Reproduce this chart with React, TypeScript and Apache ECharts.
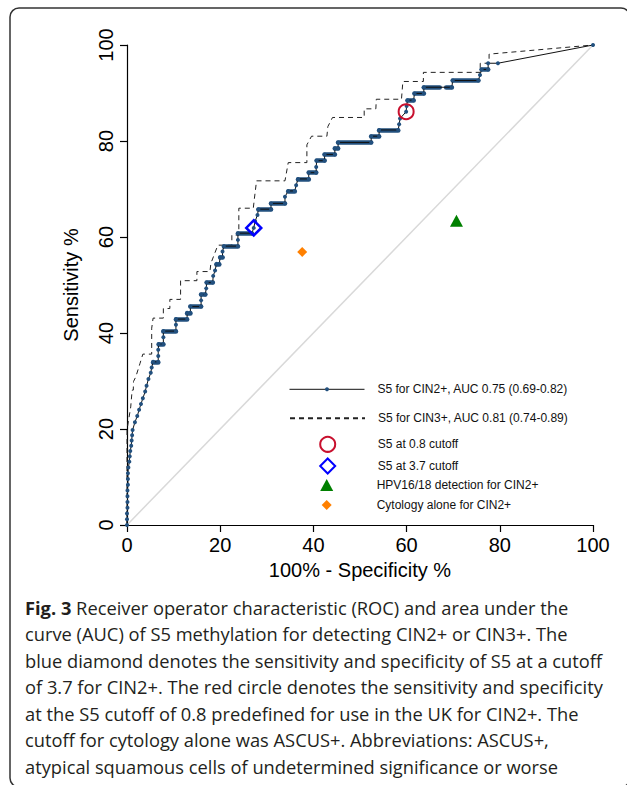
import { useEffect, useRef } from 'react';
import * as echarts from 'echarts';

const AXIS_FONT = '"Liberation Sans", Arial, Helvetica, sans-serif';
const CAPTION_FONT = '"Open Sans", sans-serif';

// Axis ticks
const xTicks = [0, 20, 40, 60, 80, 100];
const yTicks = [0, 20, 40, 60, 80, 100];

// S5 for CIN2+ ROC curve (100% - specificity, sensitivity)
const cin2Fpr = [0, 0, 0, 0.1, 0.1, 0.1, 0.1, 0.2, 0.2, 0.2, 0.3, 0.5, 0.6, 0.7, 0.9, 1.0, 1.1, 1.2, 1.7, 2.2, 2.6, 3.0, 3.4, 3.9, 4.2, 4.6, 5.1, 5.3, 5.6, 6.7, 6.7, 6.7, 6.8, 7.8, 7.8, 7.8, 10.5, 10.5, 10.5, 12.9, 12.9, 13.6, 13.6, 15.9, 15.9, 15.9, 16.8, 17.0, 17.1, 18.4, 18.5, 18.9, 19.2, 19.8, 20.0, 20.5, 20.5, 20.8, 23.8, 23.8, 23.8, 26.8, 27.2, 27.5, 28.0, 28.2, 30.9, 30.9, 33.9, 33.9, 34.6, 36.0, 36.3, 36.7, 39.0, 39.0, 40.6, 40.6, 40.7, 42.4, 42.4, 44.6, 44.6, 45.3, 45.3, 52.4, 52.4, 54.1, 54.1, 58.2, 58.4, 58.6, 59.9, 60.0, 60.2, 61.5, 61.7, 63.7, 63.7, 69.7, 69.9, 75.4, 75.75, 76.1, 77.5, 77.5, 79.6, 100];
const cin2Sens = [0, 1.2, 2.4, 3.6, 4.8, 6.0, 7.2, 8.4, 9.6, 10.8, 12.0, 13.2, 14.3, 15.4, 16.5, 17.6, 18.7, 19.8, 21.4, 22.7, 24.0, 25.2, 26.4, 27.8, 29.0, 30.4, 31.7, 32.8, 34.0, 34.0, 35.2, 36.5, 37.7, 37.7, 39.1, 40.4, 40.4, 41.7, 42.9, 42.9, 44.2, 44.2, 45.5, 45.5, 46.8, 48.0, 48.0, 49.3, 50.5, 50.5, 51.9, 53.0, 54.4, 54.4, 55.8, 55.8, 57.0, 58.1, 58.1, 59.4, 60.8, 60.8, 61.9, 63.3, 64.6, 65.8, 65.8, 67.0, 67.0, 68.4, 69.6, 69.6, 70.8, 72.1, 72.1, 73.4, 73.4, 74.6, 75.9, 75.9, 77.2, 77.2, 78.5, 78.5, 79.7, 79.7, 81.0, 81.0, 82.3, 82.3, 83.5, 84.7, 86.1, 87.3, 88.5, 88.5, 89.9, 89.9, 91.2, 91.2, 92.6, 92.6, 93.75, 94.9, 94.9, 96.2, 96.2, 100];

// Dense runs of tied CIN2+ thresholds (start fpr, end fpr, sensitivity)
const cin2RunStart = [5.6, 6.8, 7.8, 10.5, 12.9, 13.6, 15.9, 17.1, 19.2, 20.0, 20.8, 23.8, 28.2, 30.9, 34.6, 36.7, 39.0, 40.7, 42.4, 44.6, 45.3, 52.4, 54.1, 60.2, 61.7, 63.7, 68.5, 69.9, 76.1];
const cin2RunEnd = [6.7, 7.8, 10.5, 12.9, 13.6, 15.9, 16.8, 18.4, 19.8, 20.5, 23.8, 26.8, 30.9, 33.9, 36.0, 39.0, 40.6, 42.4, 44.6, 45.3, 52.4, 54.1, 58.2, 61.5, 63.7, 67.1, 69.7, 75.4, 77.5];
const cin2RunSens = [34.0, 37.7, 40.4, 42.9, 44.2, 45.5, 48.0, 50.5, 54.4, 55.8, 58.1, 60.8, 65.8, 67.0, 69.6, 72.1, 73.4, 75.9, 77.2, 78.5, 79.7, 81.0, 82.3, 88.5, 89.9, 91.2, 91.2, 92.6, 94.9];

// S5 for CIN3+ ROC curve
const cin3Fpr = [0, 0, 0.8, 1.1, 1.35, 1.4, 1.9, 2.8, 3.4, 5.3, 5.3, 5.6, 7.8, 7.8, 9.2, 9.2, 11.5, 11.5, 15.0, 15.0, 17.8, 18.0, 19.5, 22.5, 22.5, 24.0, 24.0, 27.1, 27.3, 27.8, 33.9, 34.6, 38.6, 38.6, 39.6, 42.9, 43.1, 44.1, 50.9, 50.9, 53.4, 53.5, 58.9, 59.2, 63.6, 63.6, 75.8, 75.8, 77.7, 77.7, 100];
const cin3Sens = [0, 19.8, 24.6, 28.1, 28.1, 29.9, 30.9, 33.7, 35.6, 35.6, 41.0, 43.1, 43.1, 45.1, 45.1, 47.0, 47.0, 50.9, 50.9, 52.8, 52.8, 54.5, 58.3, 58.3, 60.4, 60.4, 66.0, 66.0, 67.7, 71.7, 71.7, 75.5, 75.5, 79.2, 81.0, 81.0, 83.0, 84.9, 84.9, 86.7, 86.7, 88.7, 88.7, 92.4, 92.4, 94.3, 94.3, 96.2, 96.2, 98.1, 100];

// Chance line
const chanceFpr = [0, 100];
const chanceSens = [0, 100];

// Single operating points [100% - specificity, sensitivity]
const cutoff08 = [59.9, 86.1];
const cutoff37 = [27.2, 61.9];
const hpv1618 = [70.7, 63.4];
const cytology = [37.6, 56.9];

const seriesNames = [
  'S5 for CIN2+, AUC 0.75 (0.69-0.82)',
  'S5 for CIN3+, AUC 0.81 (0.74-0.89)',
  'S5 at 0.8 cutoff',
  'S5 at 3.7 cutoff',
  'HPV16/18 detection for CIN2+',
  'Cytology alone for CIN2+',
];

const xTitle = '100% - Specificity %';
const yTitle = 'Sensitivity %';

const captionLead = 'Fig. 3';
const captionLines = [
  ' Receiver operator characteristic (ROC) and area under the',
  'curve (AUC) of S5 methylation for detecting CIN2+ or CIN3+. The',
  'blue diamond denotes the sensitivity and specificity of S5 at a cutoff',
  'of 3.7 for CIN2+. The red circle denotes the sensitivity and specificity',
  'at the S5 cutoff of 0.8 predefined for use in the UK for CIN2+. The',
  'cutoff for cytology alone was ASCUS+. Abbreviations: ASCUS+,',
  'atypical squamous cells of undetermined significance or worse',
];

const BLUE = '#22507e';

function legendFor(name: string, left: number, top: number, w: number, h: number, pad: number, extra: any = {}) {
  return {
    data: [name],
    left,
    top,
    padding: 0,
    itemGap: 0,
    itemWidth: w,
    itemHeight: h,
    selectedMode: false,
    textStyle: { fontSize: 12, color: '#111', fontFamily: AXIS_FONT, padding: [0, 0, 0, pad] },
    ...extra,
  };
}

function buildOption() {
  const zip = (a: number[], b: number[]) => a.map((v, i) => [v, b[i]]);
  const symbolX = 326.7;
  const textX = 376.7;
  const scatterLegend = (name: string, cy: number, w: number, h: number) =>
    legendFor(name, symbolX - w / 2, cy - Math.max(h, 12) / 2, w, h, textX - (symbolX + w / 2 + 5));

  const graphics: any[] = [
    {
      type: 'rect',
      shape: { x: 10, y: 8, width: 620, height: 779, r: 9 },
      style: { fill: 'none', stroke: '#333', lineWidth: 1.5 },
      z: -10,
      silent: true,
    },
  ];
  const capSize = 18.3;
  captionLines.forEach((line, i) => {
    graphics.push({
      type: 'text',
      x: 25,
      y: 607 + i * 26.5,
      silent: true,
      style: {
        text: i === 0 ? `{b|${captionLead}}${line}` : line,
        fontSize: capSize,
        fontFamily: CAPTION_FONT,
        fill: '#231f20',
        verticalAlign: 'middle',
        rich: {
          b: { fontSize: capSize, fontFamily: CAPTION_FONT, fontWeight: 'bold', fill: '#231f20' },
        },
      },
    });
  });

  return {
    animation: false,
    backgroundColor: '#fff',
    grid: { left: 127, right: 34, top: 45, bottom: 260, containLabel: false, outerBoundsMode: 'none' },
    xAxis: {
      type: 'value',
      min: xTicks[0],
      max: xTicks[xTicks.length - 1],
      interval: xTicks[1] - xTicks[0],
      name: xTitle,
      nameLocation: 'middle',
      nameGap: 35,
      nameTextStyle: { fontSize: 20, color: '#000', fontFamily: AXIS_FONT },
      axisLine: { show: true, onZero: false, lineStyle: { color: '#000', width: 1.2 } },
      axisTick: { show: true, length: 7, lineStyle: { color: '#000', width: 1.2 } },
      axisLabel: { fontSize: 20, color: '#000', fontFamily: AXIS_FONT, margin: 10 },
      splitLine: { show: false },
    },
    yAxis: {
      type: 'value',
      min: yTicks[0],
      max: yTicks[yTicks.length - 1],
      interval: yTicks[1] - yTicks[0],
      name: yTitle,
      nameLocation: 'middle',
      nameGap: 46,
      nameTextStyle: { fontSize: 20, color: '#000', fontFamily: AXIS_FONT },
      axisLine: { show: true, onZero: false, lineStyle: { color: '#000', width: 1.2 } },
      axisTick: { show: true, length: 7, lineStyle: { color: '#000', width: 1.2 } },
      axisLabel: { fontSize: 20, color: '#000', fontFamily: AXIS_FONT, margin: 11, rotate: 90 },
      splitLine: { show: false },
    },
    legend: [
      legendFor(seriesNames[0], 289, 389.3 - 6, 75, 5, 8, { lineStyle: { width: 1 } }),
      legendFor(seriesNames[1], 289, 418.3 - 6, 75, 5, 8, { itemStyle: { color: 'rgba(0,0,0,0)', borderWidth: 0 } }),
      scatterLegend(seriesNames[2], 443.3, 15, 15),
      scatterLegend(seriesNames[3], 465, 15, 15),
      scatterLegend(seriesNames[4], 485, 13, 12),
      scatterLegend(seriesNames[5], 505, 10, 10),
    ],
    graphic: graphics,
    series: [
      {
        type: 'line',
        data: zip(chanceFpr, chanceSens),
        symbol: 'none',
        silent: true,
        lineStyle: { color: '#d9d9d9', width: 1.5 },
        z: 1,
      },
      {
        type: 'line',
        name: seriesNames[1],
        data: zip(cin3Fpr, cin3Sens),
        symbol: 'none',
        silent: true,
        lineStyle: { color: '#222', width: 1, type: [5, 4] },
        itemStyle: { color: '#222' },
        z: 2,
      },
      {
        type: 'lines',
        coordinateSystem: 'cartesian2d',
        silent: true,
        data: cin2RunStart.map((s, i) => ({ coords: [[s, cin2RunSens[i]], [cin2RunEnd[i], cin2RunSens[i]]] })),
        lineStyle: { color: BLUE, width: 4.6, cap: 'round', opacity: 1, curveness: 0 },
        z: 3,
      },
      {
        type: 'line',
        name: seriesNames[0],
        data: zip(cin2Fpr, cin2Sens),
        symbol: 'circle',
        symbolSize: 4,
        showSymbol: true,
        showAllSymbol: true,
        silent: true,
        itemStyle: { color: BLUE },
        lineStyle: { color: '#111', width: 1 },
        z: 4,
      },
      {
        type: 'scatter',
        name: seriesNames[2],
        data: [cutoff08],
        symbol: 'circle',
        symbolSize: 15,
        silent: true,
        itemStyle: { color: 'rgba(0,0,0,0)', borderColor: '#c8102e', borderWidth: 2, opacity: 1 },
        z: 5,
      },
      {
        type: 'scatter',
        name: seriesNames[3],
        data: [cutoff37],
        symbol: 'diamond',
        symbolSize: 15,
        silent: true,
        itemStyle: { color: 'rgba(0,0,0,0)', borderColor: '#0000ff', borderWidth: 2.5, opacity: 1 },
        z: 5,
      },
      {
        type: 'scatter',
        name: seriesNames[4],
        data: [hpv1618],
        symbol: 'triangle',
        symbolSize: [13, 12],
        silent: true,
        itemStyle: { color: '#008000', opacity: 1 },
        z: 5,
      },
      {
        type: 'scatter',
        name: seriesNames[5],
        data: [cytology],
        symbol: 'diamond',
        symbolSize: 10,
        silent: true,
        itemStyle: { color: '#ff8000', opacity: 1 },
        z: 5,
      },
    ],
  };
}

export default function App() {
  const ref = useRef<HTMLDivElement>(null);
  useEffect(() => {
    if (!ref.current) return;
    const chart = echarts.init(ref.current, null, { renderer: 'svg', width: 627, height: 785 });
    chart.setOption(buildOption() as any);
    return () => chart.dispose();
  }, []);
  return (
    <div
      ref={ref}
      style={{ position: 'absolute', left: 0, top: 0, width: 627, height: 785, background: '#fff' }}
    />
  );
}
